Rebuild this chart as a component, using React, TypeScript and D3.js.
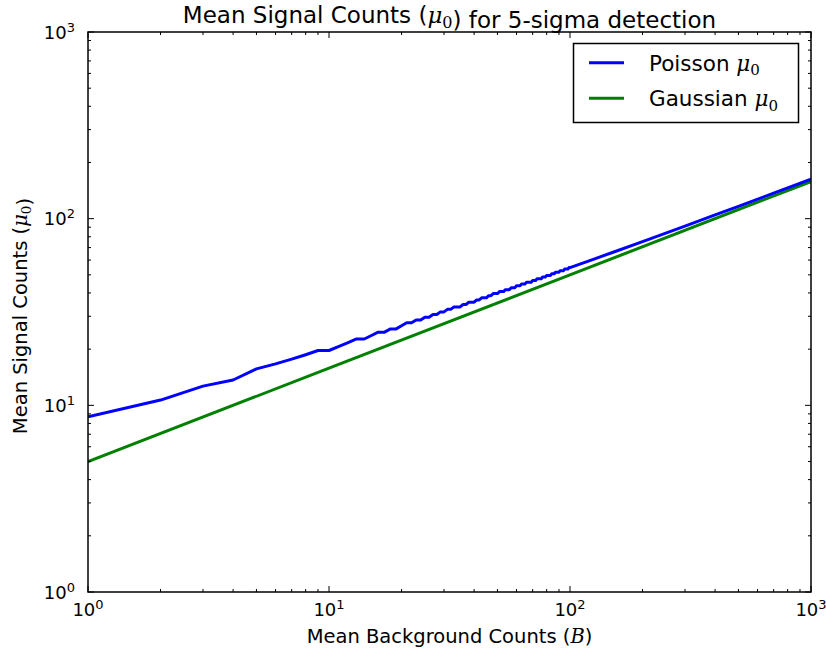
import React from "react";
import * as d3 from "d3";

// Poisson mu0
const poissonB = [
  1, 2, 3, 4, 5, 6, 7, 8, 9, 10, 11, 12, 13, 14, 15, 16, 17, 18, 19, 20,
  21, 22, 23, 24, 25, 26, 27, 28, 29, 30, 31, 32, 33, 35, 36, 37, 38, 40,
  41, 42, 43, 45, 46, 47, 48, 50, 51, 53, 54, 56, 57, 59, 60, 62, 63, 65,
  66, 69, 70, 72, 73, 76, 77, 79, 80, 83, 84, 86, 87, 90, 91, 94, 95, 98,
  99, 100, 120, 150, 200, 300, 400, 500, 700, 1000,
];
const poissonMu = [
  8.67, 10.67, 12.67, 13.67, 15.67, 16.67, 17.67, 18.67, 19.67, 19.67,
  20.67, 21.67, 22.67, 22.67, 23.67, 24.67, 24.67, 25.67, 25.67, 26.67,
  27.67, 27.67, 28.67, 28.67, 29.67, 29.67, 30.67, 30.67, 31.67, 31.67,
  32.67, 32.67, 33.67, 33.67, 34.67, 34.67, 35.67, 35.67, 36.67, 36.67,
  37.67, 37.67, 38.67, 38.67, 39.67, 39.67, 40.67, 40.67, 41.67, 41.67,
  42.67, 42.67, 43.67, 43.67, 44.67, 44.67, 45.67, 45.67, 46.67, 46.67,
  47.67, 47.67, 48.67, 48.67, 49.67, 49.67, 50.67, 50.67, 51.67, 51.67,
  52.67, 52.67, 53.67, 53.67, 54.67, 54.67, 59.4, 65.9, 75.4, 91.3,
  104.7, 116.5, 137.0, 162.8,
];

// Gaussian mu0
const gaussianB = [1, 10, 100, 1000];
const gaussianMu = [5.0, 15.81, 50.0, 158.1];

const xDomain = [1, 1000];
const yDomain = [1, 1000];
const majorExponents = [0, 1, 2, 3];

const legendItems = [
  { label: "Poisson", color: "#0000ff" },
  { label: "Gaussian", color: "#008000" },
];

const W = 826;
const H = 649;
const M = { left: 88, right: 811, top: 32, bottom: 592 };

const SANS = "'DejaVu Sans', sans-serif";
const SERIF = "'DejaVu Serif', serif";

function Mu0({ size }: { size: number }) {
  return (
    <>
      <tspan fontFamily={SERIF} fontStyle="italic">μ</tspan>
      <tspan fontFamily={SERIF} fontSize={size * 0.7} dy={size * 0.22}>0</tspan>
      <tspan dy={-size * 0.22} dx={size * 0.08}></tspan>
    </>
  );
}

export default function App() {
  const x = d3.scaleLog().domain(xDomain).range([M.left, M.right]);
  const y = d3.scaleLog().domain(yDomain).range([M.bottom, M.top]);

  const line = d3
    .line<[number, number]>()
    .x((d) => x(d[0]))
    .y((d) => y(d[1]));

  const pPts = poissonB.map((b, i) => [b, poissonMu[i]] as [number, number]);
  const gPts = gaussianB.map((b, i) => [b, gaussianMu[i]] as [number, number]);

  const majors = majorExponents.map((e) => Math.pow(10, e));
  const minors: number[] = [];
  for (let e = 0; e < 3; e++) {
    for (let k = 2; k <= 9; k++) minors.push(k * Math.pow(10, e));
  }
  const majLen = 6;
  const minLen = 3;
  const tickStroke = "#000";

  return (
    <svg
      width={W}
      height={H}
      style={{ position: "absolute", left: 0, top: 0, background: "#fff" }}
      fontFamily={SANS}
    >
      <rect x={0} y={0} width={W} height={H} fill="#fff" />
      <defs>
        <clipPath id="plotclip">
          <rect x={M.left} y={M.top} width={M.right - M.left} height={M.bottom - M.top} />
        </clipPath>
      </defs>

      {/* data lines */}
      <g clipPath="url(#plotclip)" fill="none" strokeWidth={3} strokeLinejoin="round">
        <path d={line(gPts) || ""} stroke="#008000" />
        <path d={line(pPts) || ""} stroke="#0000ff" />
      </g>

      {/* ticks */}
      <g stroke={tickStroke} strokeWidth={1}>
        {majors.map((v) => (
          <g key={"xm" + v}>
            <line x1={x(v)} x2={x(v)} y1={M.bottom} y2={M.bottom - majLen} />
            <line x1={x(v)} x2={x(v)} y1={M.top} y2={M.top + majLen} />
          </g>
        ))}
        {minors.map((v) => (
          <g key={"xn" + v}>
            <line x1={x(v)} x2={x(v)} y1={M.bottom} y2={M.bottom - minLen} />
            <line x1={x(v)} x2={x(v)} y1={M.top} y2={M.top + minLen} />
          </g>
        ))}
        {majors.map((v) => (
          <g key={"ym" + v}>
            <line y1={y(v)} y2={y(v)} x1={M.left} x2={M.left + majLen} />
            <line y1={y(v)} y2={y(v)} x1={M.right} x2={M.right - majLen} />
          </g>
        ))}
        {minors.map((v) => (
          <g key={"yn" + v}>
            <line y1={y(v)} y2={y(v)} x1={M.left} x2={M.left + minLen} />
            <line y1={y(v)} y2={y(v)} x1={M.right} x2={M.right - minLen} />
          </g>
        ))}
      </g>

      {/* frame */}
      <rect
        x={M.left}
        y={M.top}
        width={M.right - M.left}
        height={M.bottom - M.top}
        fill="none"
        stroke="#000"
        strokeWidth={1.5}
      />

      {/* x tick labels */}
      {majorExponents.map((e) => (
        <text key={"xl" + e} x={x(Math.pow(10, e))} y={616} textAnchor="middle" fontSize={18}>
          10<tspan fontSize={13} dy={-7}>{e}</tspan>
        </text>
      ))}
      {/* y tick labels */}
      {majorExponents.map((e) => (
        <text key={"yl" + e} x={75} y={y(Math.pow(10, e)) + 6.5} textAnchor="end" fontSize={18}>
          10<tspan fontSize={13} dy={-7}>{e}</tspan>
        </text>
      ))}

      {/* title */}
      <text x={(M.left + M.right) / 2} y={23} textAnchor="middle" fontSize={23}>
        Mean Signal Counts (<Mu0 size={23} />) for 5-sigma detection
      </text>

      {/* x label */}
      <text x={(M.left + M.right) / 2} y={643} textAnchor="middle" fontSize={19.5}>
        Mean Background Counts (<tspan fontFamily={SERIF} fontStyle="italic">B</tspan>)
      </text>

      {/* y label */}
      <text
        transform={`translate(27, ${(M.top + M.bottom) / 2 + 4}) rotate(-90)`}
        textAnchor="middle"
        fontSize={19.5}
      >
        Mean Signal Counts (<Mu0 size={19.5} />)
      </text>

      {/* legend */}
      <g>
        <rect x={573.5} y={43.5} width={225} height={79} fill="#fff" stroke="#000" strokeWidth={1.5} />
        {legendItems.map((it, i) => {
          const cy = 62.7 + i * 35.6;
          return (
            <g key={it.label}>
              <line x1={589} x2={624} y1={cy} y2={cy} stroke={it.color} strokeWidth={3} />
              <text x={649} y={cy + 8} fontSize={21.5}>
                {it.label} <Mu0 size={21.5} />
              </text>
            </g>
          );
        })}
      </g>
    </svg>
  );
}
